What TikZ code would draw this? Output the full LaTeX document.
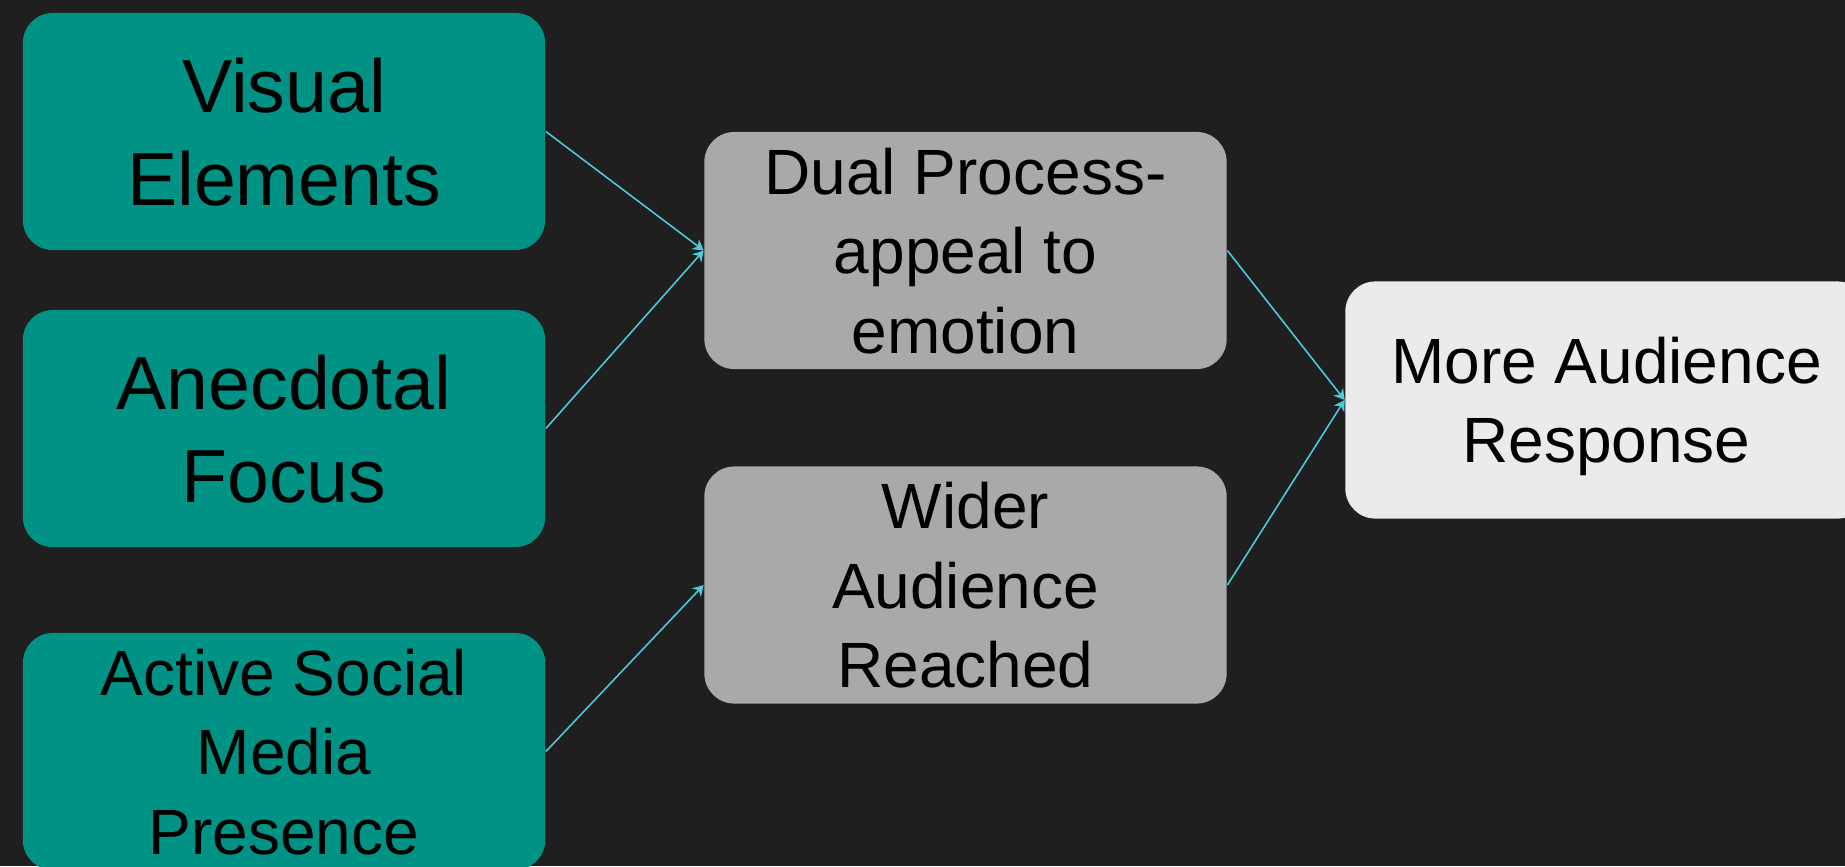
\documentclass[tikz,border=0pt]{standalone}
\usepackage{fontspec}
\setmainfont{Liberation Sans}
\usetikzlibrary{arrows.meta}

\definecolor{bgdark}{HTML}{1F1F1F}
\definecolor{tealbox}{HTML}{009385}
\definecolor{greybox}{HTML}{A9A9A9}
\definecolor{lightbox}{HTML}{EBEBEB}
\definecolor{linkcyan}{HTML}{4CC9DC}

\tikzset{
  card/.style={rounded corners=0.3cm, minimum width=5.22cm, minimum height=2.37cm,
    align=center, inner sep=0pt, text depth=0pt, text=black},
  bigtext/.style={font=\fontsize{21.4}{26.4}\selectfont},
  smalltext/.style={font=\fontsize{18.2}{22.6}\selectfont},
  cause/.style={card, fill=tealbox, bigtext},
  effect/.style={card, fill=greybox, smalltext},
  result/.style={card, fill=lightbox, smalltext},
  link/.style={draw=linkcyan, line width=0.45pt, -{Stealth[length=3pt,width=3.5pt]}}
}

\begin{document}
\begin{tikzpicture}[x=0.01cm,y=-0.01cm]
		\clip (0,0) rectangle (1845,866);
		\fill[bgdark] (0,0) rectangle (1845,866);
		% left column
		\node (vis) [cause, at={(284,131.5)}] {Visual\\Elements};
		\node (anec) [cause, at={(284,428.5)}] {Anecdotal\\Focus};
		\node (soc) [cause, smalltext, at={(284,751.5)}] {Active Social\\Media\\Presence};
		% middle column
		\node (dual) [effect, at={(965.5,250.5)}] {Dual Process-\\appeal to\\emotion};
		\node (wide) [effect, at={(965.5,585)}] {Wider\\Audience\\Reached};
		% right
		\node (resp) [result, at={(1606.5,400)}] {More Audience\\Response};
		\draw[link] (vis.east) -- (dual.west);
		\draw[link] (anec.east) -- (dual.west);
		\draw[link] (soc.east) -- (wide.west);
		\draw[link] (dual.east) -- (resp.west);
		\draw[link] (wide.east) -- (resp.west);
\end{tikzpicture}
\end{document}
